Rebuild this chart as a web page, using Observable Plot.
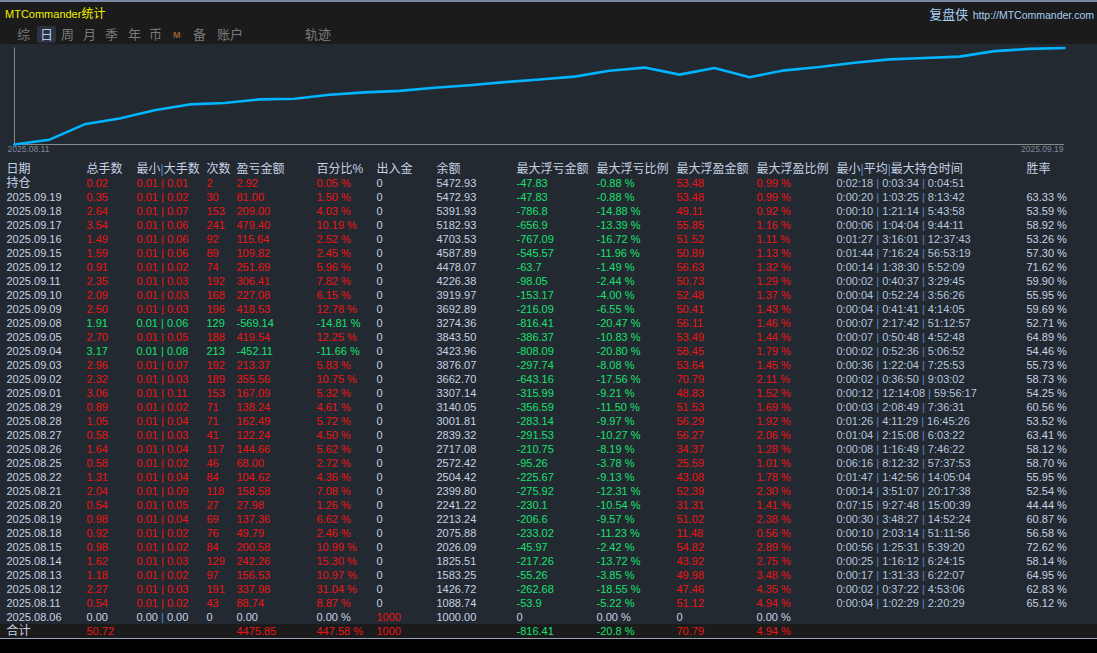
<!DOCTYPE html>
<html>
<head>
<meta charset="utf-8">
<script src="https://cdn.jsdelivr.net/npm/d3@7"></script>
<script src="https://cdn.jsdelivr.net/npm/@observablehq/plot@0.6"></script>
<style>
html,body{margin:0;padding:0;background:#000;}
#page{position:relative;width:1097px;height:653px;overflow:hidden;background:#000;font-family:"Liberation Sans","Noto Sans CJK SC",sans-serif;}
#topbar{position:absolute;left:0;top:0;width:1097px;height:44px;background:#1b1b1b;border-top:2px solid #7a88a6;box-sizing:border-box;}
#title{position:absolute;left:5px;top:4px;font-size:11px;color:#f0f000;line-height:16px;}
#title .cjk{font-size:12px;}
#brand{position:absolute;right:3px;top:4px;line-height:16px;color:#a6d0f2;white-space:nowrap;}
#brand .cjk{font-size:13px;}
#brand .url{font-size:10.5px;}
.tab{position:absolute;top:24px;font-size:13px;line-height:17px;color:#7a7a7a;white-space:nowrap;}
.tab.sel{color:#b8cce6;background:#2b3342;border-radius:2px;padding:0 3px;margin-left:-3px;}
.tab.m{font-size:9px;font-weight:bold;color:#9a5a3a;top:25px;}
#chart{position:absolute;left:0;top:44px;width:1097px;height:116px;background:#232931;}
#table{position:absolute;left:0;top:160px;width:1097px;height:478px;background:#232931;overflow:hidden;}
#sep{position:absolute;left:0;top:638px;width:1097px;height:1px;background:#98a2ba;}
svg text{white-space:pre;}
</style>
</head>
<body>
<div id="page">
  <div id="topbar">
    <div id="title">MTCommander<span class="cjk">统计</span></div>
    <div id="brand"><span class="cjk">复盘侠</span> <span class="url">http://MTCommander.com</span></div>
  </div>
  <div id="chart"></div>
  <div id="table"></div>
  <div id="sep"></div>
</div>
<script>
// ---------- data ----------
const tabs = ["综","日","周","月","季","年","币","M","备","账户","轨迹"];
const tabLeft = [17,40,61,83,105,128,149,173,193,217,305];
const selectedTab = "日";

const headers = ["日期","总手数","最小|大手数","次数","盈亏金额","百分比%","出入金","余额","最大浮亏金额","最大浮亏比例","最大浮盈金额","最大浮盈比例","最小|平均|最大持仓时间","胜率"];

const openLabel = "持仓";
const totalLabel = "合计";
const dates = ["2025.09.19","2025.09.18","2025.09.17","2025.09.16","2025.09.15","2025.09.12","2025.09.11","2025.09.10","2025.09.09","2025.09.08","2025.09.05","2025.09.04","2025.09.03","2025.09.02","2025.09.01","2025.08.29","2025.08.28","2025.08.27","2025.08.26","2025.08.25","2025.08.22","2025.08.21","2025.08.20","2025.08.19","2025.08.18","2025.08.15","2025.08.14","2025.08.13","2025.08.12","2025.08.11","2025.08.06"];

// first entry of each array = open positions row (持仓), then one per date
const lots = [0.02,0.35,2.64,3.54,1.49,1.59,0.91,2.35,2.09,2.50,1.91,2.70,3.17,2.96,2.32,3.06,0.89,1.05,0.58,1.64,0.58,1.31,2.04,0.54,0.98,0.92,0.98,1.62,1.18,2.27,0.54,0.00];
const minLots = [0.01,0.01,0.01,0.01,0.01,0.01,0.01,0.01,0.01,0.01,0.01,0.01,0.01,0.01,0.01,0.01,0.01,0.01,0.01,0.01,0.01,0.01,0.01,0.01,0.01,0.01,0.01,0.01,0.01,0.01,0.01,0.00];
const maxLots = [0.01,0.02,0.07,0.06,0.06,0.06,0.02,0.03,0.03,0.03,0.06,0.05,0.08,0.07,0.03,0.11,0.02,0.04,0.03,0.04,0.02,0.04,0.09,0.05,0.04,0.02,0.02,0.03,0.02,0.03,0.02,0.00];
const trades = [2,30,153,241,92,89,74,192,168,196,129,188,213,192,189,153,71,71,41,117,46,84,118,27,69,76,84,129,97,191,43,0];
const pnl = [2.92,81.00,209.00,479.40,115.64,109.82,251.69,306.41,227.08,418.53,-569.14,419.54,-452.11,213.37,355.56,167.09,138.24,162.49,122.24,144.66,68.00,104.62,158.58,27.98,137.36,49.79,200.58,242.26,156.53,337.98,88.74,0.00];
const pnlPct = [0.05,1.50,4.03,10.19,2.52,2.45,5.96,7.82,6.15,12.78,-14.81,12.25,-11.66,5.83,10.75,5.32,4.61,5.72,4.50,5.62,2.72,4.36,7.08,1.26,6.62,2.46,10.99,15.30,10.97,31.04,8.87,0.00];
const deposit = [0,0,0,0,0,0,0,0,0,0,0,0,0,0,0,0,0,0,0,0,0,0,0,0,0,0,0,0,0,0,0,1000];
const balance = [5472.93,5472.93,5391.93,5182.93,4703.53,4587.89,4478.07,4226.38,3919.97,3692.89,3274.36,3843.50,3423.96,3876.07,3662.70,3307.14,3140.05,3001.81,2839.32,2717.08,2572.42,2504.42,2399.80,2241.22,2213.24,2075.88,2026.09,1825.51,1583.25,1426.72,1088.74,1000.00];
const maxFloatLoss = [-47.83,-47.83,-786.8,-656.9,-767.09,-545.57,-63.7,-98.05,-153.17,-216.09,-816.41,-386.37,-808.09,-297.74,-643.16,-315.99,-356.59,-283.14,-291.53,-210.75,-95.26,-225.67,-275.92,-230.1,-206.6,-233.02,-45.97,-217.26,-55.26,-262.68,-53.9,0];
const maxFloatLossPct = [-0.88,-0.88,-14.88,-13.39,-16.72,-11.96,-1.49,-2.44,-4.00,-6.55,-20.47,-10.83,-20.80,-8.08,-17.56,-9.21,-11.50,-9.97,-10.27,-8.19,-3.78,-9.13,-12.31,-10.54,-9.57,-11.23,-2.42,-13.72,-3.85,-18.55,-5.22,0.00];
const maxFloatProfit = [53.48,53.48,49.11,55.85,51.52,50.89,56.63,50.73,52.48,50.41,56.11,53.49,58.45,53.64,70.79,48.83,51.53,56.29,56.27,34.37,25.59,43.08,52.39,31.31,51.02,11.48,54.82,43.92,49.98,47.46,51.12,0];
const maxFloatProfitPct = [0.99,0.99,0.92,1.16,1.11,1.13,1.32,1.29,1.37,1.43,1.46,1.44,1.79,1.45,2.11,1.52,1.69,1.92,2.06,1.28,1.01,1.78,2.30,1.41,2.38,0.56,2.89,2.75,3.48,4.35,4.94,0.00];
const minHold = ["0:02:18","0:00:20","0:00:10","0:00:06","0:01:27","0:01:44","0:00:14","0:00:02","0:00:04","0:00:04","0:00:07","0:00:07","0:00:02","0:00:36","0:00:02","0:00:12","0:00:03","0:01:26","0:01:04","0:00:08","0:06:16","0:01:47","0:00:14","0:07:15","0:00:30","0:00:10","0:00:56","0:00:25","0:00:17","0:00:02","0:00:04",""];
const avgHold = ["0:03:34","1:03:25","1:21:14","1:04:04","3:16:01","7:16:24","1:38:30","0:40:37","0:52:24","0:41:41","2:17:42","0:50:48","0:52:36","1:22:04","0:36:50","12:14:08","2:08:49","4:11:29","2:15:08","1:16:49","8:12:32","1:42:56","3:51:07","9:27:48","3:48:27","2:03:14","1:25:31","1:16:12","1:31:33","0:37:22","1:02:29",""];
const maxHold = ["0:04:51","8:13:42","5:43:58","9:44:11","12:37:43","56:53:19","5:52:09","3:29:45","3:56:26","4:14:05","51:12:57","4:52:48","5:06:52","7:25:53","9:03:02","59:56:17","7:36:31","16:45:26","6:03:22","7:46:22","57:37:53","14:05:04","20:17:38","15:00:39","14:52:24","51:11:56","5:39:20","6:24:15","6:22:07","4:53:06","2:20:29",""];
const winRate = [null,63.33,53.59,58.92,53.26,57.30,71.62,59.90,55.95,59.69,52.71,64.89,54.46,55.73,58.73,54.25,60.56,53.52,63.41,58.12,58.70,55.95,52.54,44.44,60.87,56.58,72.62,58.14,64.95,62.83,65.12,null];

// totals row
const totalLots = 50.72;
const totalPnl = 4475.85;
const totalPct = 447.58;
const totalDeposit = 1000;
const totalMaxLoss = -816.41;
const totalMaxLossPct = -20.8;
const totalMaxProfit = 70.79;
const totalMaxProfitPct = 4.94;

// ---------- styling / layout ----------
const FONT = '"Liberation Sans","Noto Sans CJK SC",sans-serif';
const C = {light:"#c6d2e4", red:"#ee1414", green:"#18e070", time:"#b6c6de", bar:"#5a8ac8", axis:"#8a8a8a", axisText:"#7e8898", line:"#00b4ff"};
const colX = [6,86,136,206,236,316,376,436,516,596,676,756,836,1026];

// ---------- header tabs ----------
const topbarEl = document.getElementById("topbar");
tabs.forEach((t,i)=>{
  const s = document.createElement("div");
  s.className = "tab" + (t===selectedTab?" sel":"") + (t==="M"?" m":"");
  s.style.left = tabLeft[i] + "px";
  s.textContent = t;
  topbarEl.appendChild(s);
});

// ---------- equity line chart ----------
const chrono = dates.map((d,i)=>({date:d, balance:balance[i+1]})).reverse();
const chronoDates = chrono.map(d=>d.date);
const chart = Plot.plot({
  width:1097, height:116,
  marginLeft:13, marginRight:33, marginTop:3.5, marginBottom:16,
  style:{background:"transparent", fontFamily:FONT, overflow:"visible"},
  x:{type:"point", domain:chronoDates, padding:0, axis:null},
  y:{type:"log", domain:d3.extent(chrono, d=>d.balance), axis:null},
  marks:[
    Plot.ruleY([d3.min(chrono, d=>d.balance)], {stroke:C.axis, strokeWidth:1}),
    Plot.ruleX([chronoDates[0]], {stroke:C.axis, strokeWidth:1}),
    Plot.line(chrono, {x:"date", y:"balance", stroke:C.line, strokeWidth:2.6, curve:"linear"}),
    Plot.text([chronoDates[1]], {text:d=>d, frameAnchor:"bottom-left", textAnchor:"start", dx:-6, dy:7, fill:C.axisText, fontSize:8.5}),
    Plot.text([chronoDates[chronoDates.length-1]], {text:d=>d, frameAnchor:"bottom-right", textAnchor:"end", dx:-1, dy:7, fill:C.axisText, fontSize:8.5})
  ]
});
document.getElementById("chart").appendChild(chart);

// ---------- table ----------
const sgn = v => v>0 ? C.red : v<0 ? C.green : C.light;
const rowKeys = ["__header", openLabel, ...dates, totalLabel];
const cjkCells = [];
const numCells = [];
headers.forEach((h,i)=>cjkCells.push({row:"__header", col:i, text:h, color:C.light}));
cjkCells.push({row:openLabel, col:0, text:openLabel, color:C.light});
cjkCells.push({row:totalLabel, col:0, text:totalLabel, color:C.light});
const rowLabels = [openLabel, ...dates];
rowLabels.forEach((r,i)=>{
  const main = sgn(pnl[i]);
  const cells = [];
  if (i>0) cells.push([0, r, C.light]);
  cells.push([1, lots[i].toFixed(2), main]);
  cells.push([2, `${minLots[i].toFixed(2)} | ${maxLots[i].toFixed(2)}`, main]);
  cells.push([3, String(trades[i]), main]);
  cells.push([4, pnl[i].toFixed(2), main]);
  cells.push([5, pnlPct[i].toFixed(2)+" %", main]);
  cells.push([6, String(deposit[i]), deposit[i]>0 ? C.red : C.light]);
  cells.push([7, balance[i].toFixed(2), C.light]);
  cells.push([8, String(maxFloatLoss[i]), sgn(maxFloatLoss[i])]);
  cells.push([9, maxFloatLossPct[i].toFixed(2)+" %", sgn(maxFloatLossPct[i])]);
  cells.push([10, String(maxFloatProfit[i]), sgn(maxFloatProfit[i])]);
  cells.push([11, maxFloatProfitPct[i].toFixed(2)+" %", sgn(maxFloatProfitPct[i])]);
  if (minHold[i]) cells.push([12, `${minHold[i]} | ${avgHold[i]} | ${maxHold[i]}`, C.time]);
  if (winRate[i]!=null) cells.push([13, winRate[i].toFixed(2)+" %", C.light]);
  cells.forEach(([col,text,color])=>numCells.push({row:r, col, text, color}));
});
[[1,String(totalLots),sgn(totalLots)],[4,String(totalPnl),sgn(totalPnl)],[5,totalPct+" %",sgn(totalPct)],[6,String(totalDeposit),C.red],
 [8,String(totalMaxLoss),sgn(totalMaxLoss)],[9,totalMaxLossPct+" %",sgn(totalMaxLossPct)],[10,String(totalMaxProfit),sgn(totalMaxProfit)],[11,totalMaxProfitPct+" %",sgn(totalMaxProfitPct)]]
  .forEach(([col,text,color])=>numCells.push({row:totalLabel, col, text, color}));

const table = Plot.plot({
  width:1097, height:478,
  margin:0,
  style:{background:"transparent", fontFamily:FONT},
  x:{type:"linear", domain:[0,1097], range:[0,1097], axis:null},
  y:{type:"band", domain:rowKeys, range:[1,479], padding:0, axis:null},
  marks:[
    Plot.cell([totalLabel], {y:d=>d, fill:"#1b1b1b", inset:0}),
    Plot.text(cjkCells, {x:d=>colX[d.col], y:"row", text:"text", fill:"color", textAnchor:"start", fontSize:12}),
    Plot.text(numCells, {x:d=>colX[d.col], y:"row", text:"text", fill:"color", textAnchor:"start", fontSize:11})
  ]
});
document.getElementById("table").appendChild(table);

// colour the "|" separators of header / neutral / time cells
const blueFills = [C.light, C.time];
table.querySelectorAll("text").forEach(t=>{
  const s = t.textContent;
  if (!s.includes("|")) return;
  const fill = t.getAttribute("fill");
  if (!blueFills.includes(fill)) return;
  const parts = s.split("|");
  while (t.firstChild) t.removeChild(t.firstChild);
  parts.forEach((p,k)=>{
    if (k>0){
      const b = document.createElementNS("http://www.w3.org/2000/svg","tspan");
      b.setAttribute("fill", C.bar);
      b.textContent = "|";
      t.appendChild(b);
    }
    const ts = document.createElementNS("http://www.w3.org/2000/svg","tspan");
    ts.textContent = p;
    t.appendChild(ts);
  });
});
</script>
</body>
</html>
